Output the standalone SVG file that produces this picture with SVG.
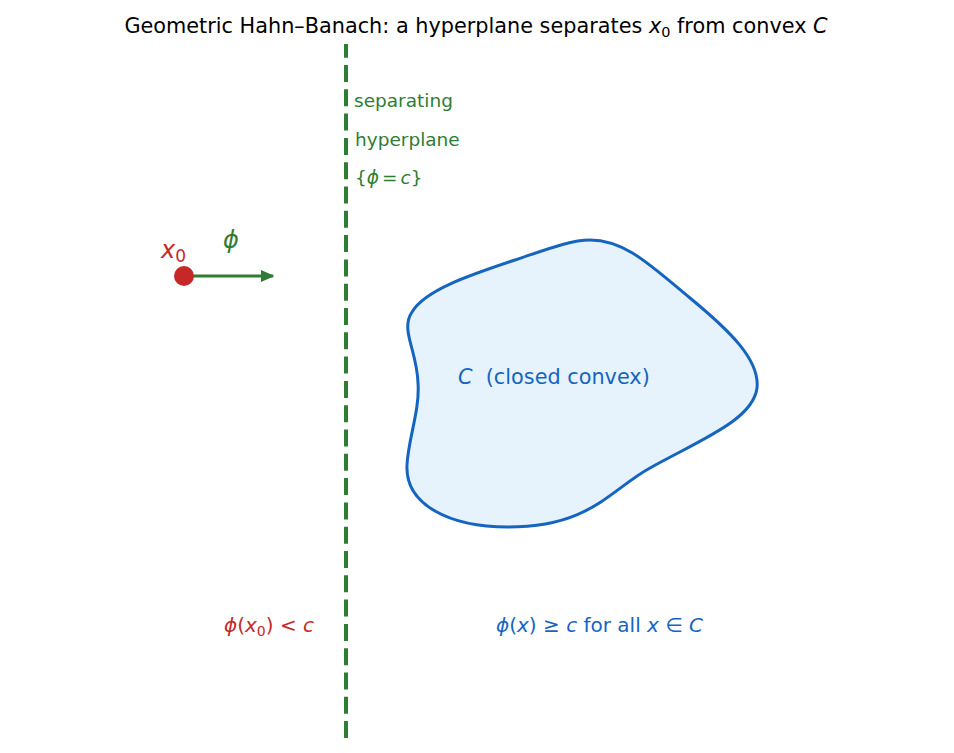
<svg xmlns="http://www.w3.org/2000/svg" width="954" height="753" viewBox="0 0 954 753">
<style>
text{font-family:"DejaVu Sans",sans-serif}
.it{font-style:italic}
.g{fill:#2e7d32}
.r{fill:#c62828}
.b{fill:#1565c0}
</style>
<defs>
<marker id="ah" viewBox="0 0 10 10" refX="9" refY="5" markerWidth="4.5" markerHeight="4.5" orient="auto" markerUnits="strokeWidth">
<path d="M0,0.5 L10,5 L0,9.5 Z" fill="#2e7d32"/>
</marker>
</defs>
<rect width="954" height="753" fill="#fff"/>
<text x="476" y="33" font-size="20.8" text-anchor="middle" fill="#000">Geometric Hahn–Banach: a hyperplane separates <tspan class="it">x</tspan><tspan font-size="14.5" dy="4">0</tspan><tspan dy="-4"> from convex </tspan><tspan class="it">C</tspan></text>
<g id="convex-set">
<path d="M 590 240 C 625 240, 650 265, 690 298 C 730 331, 760 360, 757 388 C 753 420, 700 440, 650 468 C 610 490, 590 527, 508 527 C 450 527, 405 505, 407 465 C 408 440, 420 410, 418 383 C 417 350, 400 330, 412 312 C 425 290, 470 275, 515 260 C 545 250, 570 240, 590 240 Z" fill="#e6f3fc" stroke="#1565c0" stroke-width="3"/>
<text x="458" y="384" font-size="20.8" class="b" xml:space="preserve"><tspan class="it">C</tspan>  (closed convex)</text>
</g>
<g id="hyperplane">
<line x1="346" y1="44" x2="346" y2="738" stroke="#2e7d32" stroke-width="4" stroke-dasharray="17 7.3" stroke-dashoffset="3.3"/>
<text x="354" y="107" font-size="18.5" class="g">separating</text>
<text x="355" y="146" font-size="18.5" class="g">hyperplane</text>
<text x="355" y="184" font-size="18.5" class="g">{<tspan class="it">ϕ</tspan><tspan dx="3">=</tspan><tspan class="it" dx="3">c</tspan>}</text>
</g>
<g id="connectors">
<line x1="184" y1="276" x2="273" y2="276" stroke="#2e7d32" stroke-width="3" marker-end="url(#ah)"/>
</g>
<g id="point-x0">
<circle cx="184" cy="276" r="10" fill="#c62828"/>
<text x="161" y="258" font-size="24" class="r"><tspan class="it">x</tspan><tspan font-size="17" dy="4">0</tspan></text>
</g>
<g id="phi-label">
<text x="223" y="248" font-size="24" class="g it">ϕ</text>
</g>
<g id="labels">
<text x="224" y="632" font-size="20" class="r"><tspan class="it">ϕ</tspan>(<tspan class="it">x</tspan><tspan font-size="14" dy="4">0</tspan><tspan dy="-4">) &lt; </tspan><tspan class="it">c</tspan></text>
<text x="496" y="632" font-size="20" class="b"><tspan class="it">ϕ</tspan>(<tspan class="it">x</tspan>) ≥ <tspan class="it">c</tspan> for all <tspan class="it">x</tspan> ∈ <tspan class="it">C</tspan></text>
</g>
</svg>
